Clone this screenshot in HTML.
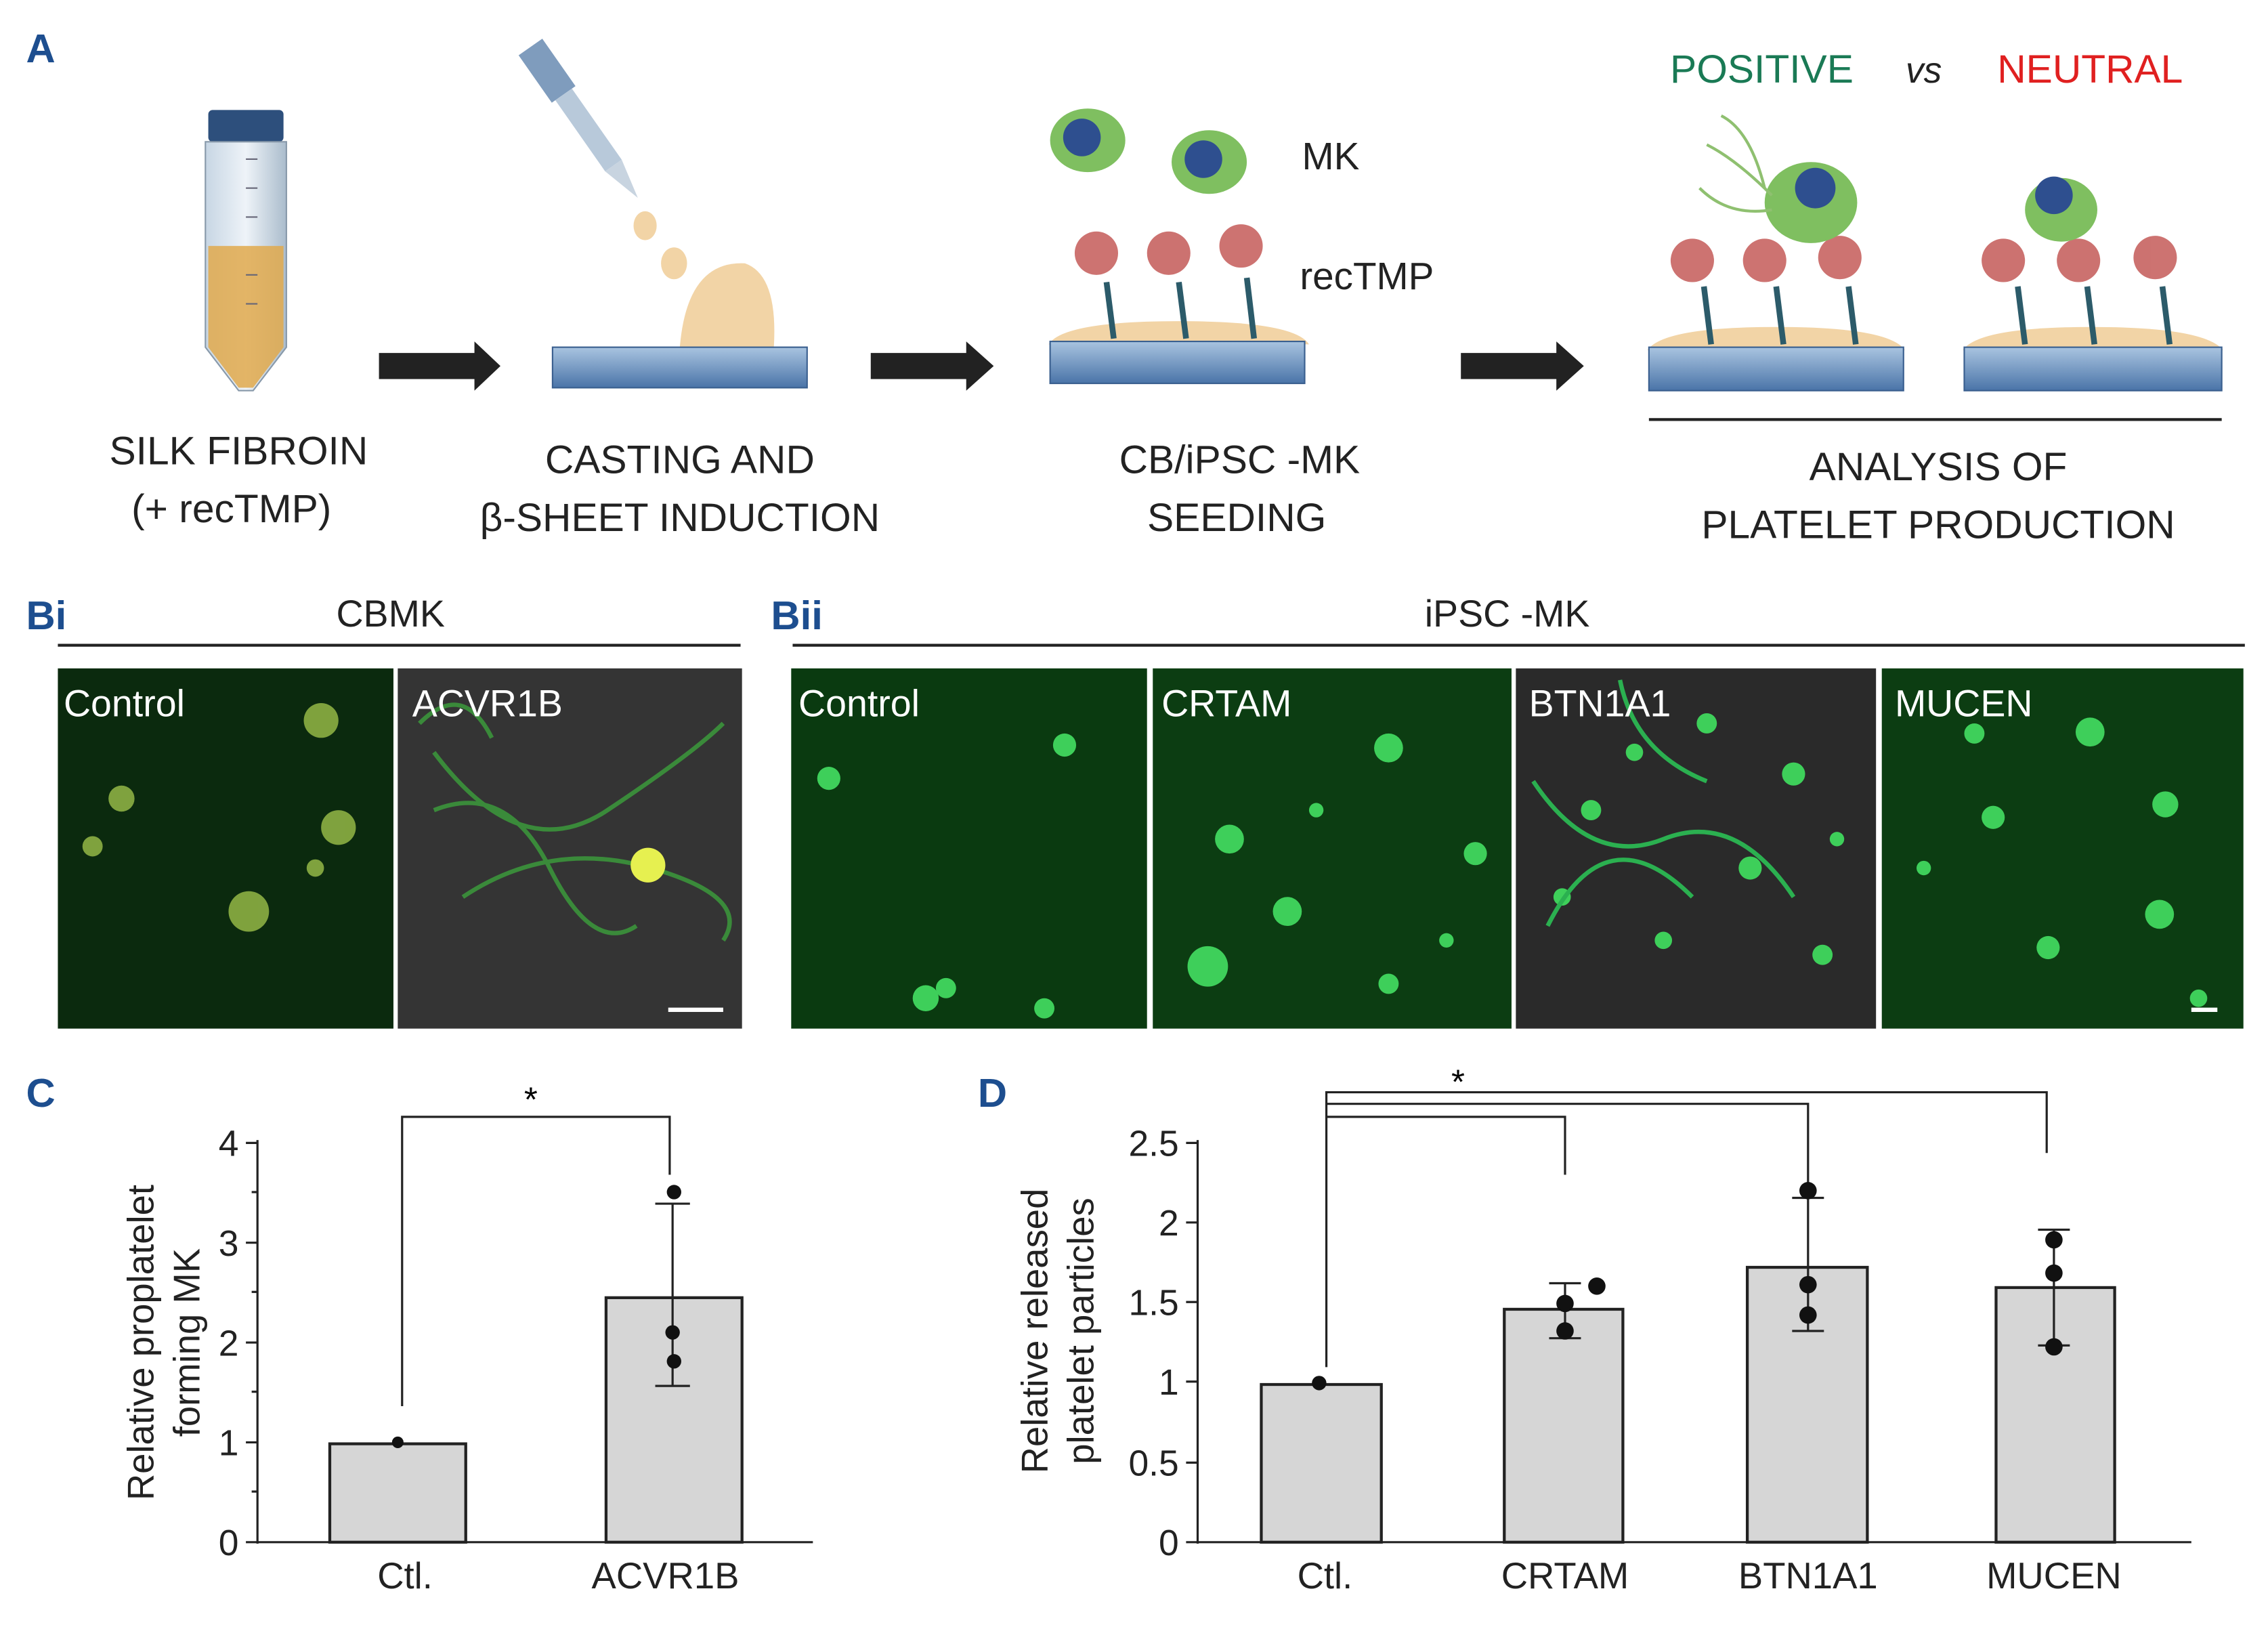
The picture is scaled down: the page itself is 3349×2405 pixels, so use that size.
<!DOCTYPE html>
<html><head><meta charset="utf-8"><style>
html,body{margin:0;padding:0;background:#fff}
svg{display:block}
text{font-family:"Liberation Sans",sans-serif}
</style></head><body>
<svg width="3349" height="2405" viewBox="0 0 1568 1126" xmlns="http://www.w3.org/2000/svg">
<defs>
<linearGradient id="slab" x1="0" y1="0" x2="0" y2="1"><stop offset="0" stop-color="#a9c4e0"/><stop offset="1" stop-color="#4a74a8"/></linearGradient>
<linearGradient id="tube" x1="0" y1="0" x2="1" y2="0"><stop offset="0" stop-color="#c7d6e4"/><stop offset="0.5" stop-color="#eef3f8"/><stop offset="1" stop-color="#aabccc"/></linearGradient>
</defs>
<rect width="1568" height="1126" fill="#fff"/>
<text x="18" y="43" font-size="28" font-weight="900" fill="#1d4e8f">A</text>
<rect x="144" y="76" width="52" height="22" rx="3" fill="#2d4f7c"/>
<path d="M142 98 H198 V240 L175 270 H165 L142 240 Z" fill="url(#tube)" stroke="#8899aa"/>
<path d="M144 170 H196 V240 L175 268 H165 L144 240 Z" fill="#e0a94c" opacity="0.85"/>
<g stroke="#667" stroke-width="1"><line x1="170" y1="110" x2="178" y2="110"/><line x1="170" y1="130" x2="178" y2="130"/><line x1="170" y1="150" x2="178" y2="150"/><line x1="170" y1="190" x2="178" y2="190"/><line x1="170" y1="210" x2="178" y2="210"/></g>
<g fill="#222"><path d="M262 244 H328 V236 L346 253 L328 270 V262 H262Z"/><path d="M602 244 H668 V236 L687 253 L668 270 V262 H602Z"/><path d="M1010 244 H1076 V236 L1095 253 L1076 270 V262 H1010Z"/></g>
<g transform="rotate(-35 400 80)"><rect x="390" y="22" width="20" height="40" fill="#7f9cbd"/><rect x="393" y="62" width="14" height="60" fill="#b8c9da"/><path d="M393 122 L407 122 L401 150 Z" fill="#c8d4e0"/></g>
<ellipse cx="446" cy="156" rx="8" ry="10" fill="#f2d4a6"/><ellipse cx="466" cy="182" rx="9" ry="11" fill="#f2d4a6"/>
<path d="M470 240 Q475 180 515 182 Q538 190 535 240Z" fill="#f2d4a6"/>
<rect x="382" y="240" width="176" height="28" fill="url(#slab)" stroke="#3a5f8f"/>
<path d="M725 238 Q735 222 815 222 Q895 222 905 238Z" fill="#f2d4a6"/>
<rect x="726" y="236" width="176" height="29" fill="url(#slab)" stroke="#3a5f8f"/>
<g fill="#c0504d" opacity="0.8"><circle cx="758" cy="175" r="15"/><circle cx="808" cy="175" r="15"/><circle cx="858" cy="170" r="15"/></g>
<g stroke="#2c5b6a" stroke-width="4"><line x1="765" y1="195" x2="770" y2="234"/><line x1="815" y1="195" x2="820" y2="234"/><line x1="862" y1="192" x2="867" y2="234"/></g>
<ellipse cx="752" cy="97" rx="26" ry="22" fill="#7fbf60"/><circle cx="748" cy="95" r="13" fill="#2e4f8f"/>
<ellipse cx="836" cy="112" rx="26" ry="22" fill="#7fbf60"/><circle cx="832" cy="110" r="13" fill="#2e4f8f"/>
<text x="920" y="117" font-size="26.5" text-anchor="middle" fill="#222">MK</text>
<text x="945" y="200" font-size="26.5" text-anchor="middle" fill="#222">recTMP</text>
<path d="M1139 242 Q1150 226 1228 226 Q1306 226 1317 242Z" fill="#f2d4a6"/>
<path d="M1357 242 Q1368 226 1446 226 Q1524 226 1537 242Z" fill="#f2d4a6"/>
<rect x="1140" y="240" width="176" height="30" fill="url(#slab)" stroke="#3a5f8f"/>
<rect x="1358" y="240" width="178" height="30" fill="url(#slab)" stroke="#3a5f8f"/>
<g fill="#c0504d" opacity="0.8"><circle cx="1170" cy="180" r="15"/><circle cx="1220" cy="180" r="15"/><circle cx="1272" cy="178" r="15"/><circle cx="1385" cy="180" r="15"/><circle cx="1437" cy="180" r="15"/><circle cx="1490" cy="178" r="15"/></g>
<g stroke="#2c5b6a" stroke-width="4"><line x1="1178" y1="198" x2="1183" y2="238"/><line x1="1228" y1="198" x2="1233" y2="238"/><line x1="1278" y1="198" x2="1283" y2="238"/><line x1="1395" y1="198" x2="1400" y2="238"/><line x1="1443" y1="198" x2="1448" y2="238"/><line x1="1495" y1="198" x2="1500" y2="238"/></g>
<ellipse cx="1252" cy="140" rx="32" ry="28" fill="#7fbf60"/><circle cx="1255" cy="130" r="14" fill="#2e4f8f"/>
<g stroke="#8fc070" stroke-width="2" fill="none"><path d="M1225 135 Q1200 110 1180 100"/><path d="M1220 130 Q1210 90 1190 80"/><path d="M1225 145 Q1195 150 1175 130"/></g>
<ellipse cx="1425" cy="145" rx="25" ry="22" fill="#7fbf60"/><circle cx="1420" cy="135" r="13" fill="#2e4f8f"/>
<text x="1218" y="57" font-size="27.5" text-anchor="middle" fill="#1a7a55">POSITIVE</text>
<text x="1330" y="57" font-size="25" font-style="italic" text-anchor="middle" fill="#222">vs</text>
<text x="1445" y="57" font-size="27.5" text-anchor="middle" fill="#e02020">NEUTRAL</text>
<line x1="1140" y1="290" x2="1536" y2="290" stroke="#222" stroke-width="2"/>
<g font-size="27.5" text-anchor="middle" fill="#222">
<text x="165" y="321">SILK FIBROIN</text><text x="160" y="361">(+ recTMP)</text>
<text x="470" y="327">CASTING AND</text><text x="470" y="367">β-SHEET INDUCTION</text>
<text x="857" y="327">CB/iPSC -MK</text><text x="855" y="367">SEEDING</text>
<text x="1340" y="332">ANALYSIS OF</text><text x="1340" y="372">PLATELET PRODUCTION</text>
</g>
<text x="18" y="435" font-size="28" font-weight="900" fill="#1d4e8f">Bi</text>
<text x="533" y="435" font-size="28" font-weight="900" fill="#1d4e8f">Bii</text>
<text x="270" y="433" font-size="26" text-anchor="middle" fill="#222">CBMK</text>
<text x="1042" y="433" font-size="26" text-anchor="middle" fill="#222">iPSC -MK</text>
<line x1="40" y1="446" x2="512" y2="446" stroke="#222" stroke-width="2"/>
<line x1="548" y1="446" x2="1552" y2="446" stroke="#222" stroke-width="2"/>
<rect x="40" y="462" width="232" height="249" fill="#0b2a0e"/>
<rect x="275" y="462" width="238" height="249" fill="#343434"/>
<rect x="547" y="462" width="246" height="249" fill="#0a3a10"/>
<rect x="797" y="462" width="248" height="249" fill="#0c3d12"/>
<rect x="1048" y="462" width="249" height="249" fill="#2a2a2a"/>
<rect x="1301" y="462" width="250" height="249" fill="#0c3d12"/>
<g fill="#9cc04a" opacity="0.8"><circle cx="222" cy="498" r="12"/><circle cx="84" cy="552" r="9"/><circle cx="234" cy="572" r="12"/><circle cx="64" cy="585" r="7"/><circle cx="172" cy="630" r="14"/><circle cx="218" cy="600" r="6"/></g>
<g stroke="#3a8a3a" stroke-width="3" fill="none"><path d="M300 520 Q360 600 420 560 T500 500"/><path d="M320 620 Q380 580 450 600 T500 650"/><path d="M300 560 Q350 540 380 600 T440 640"/><path d="M290 500 Q320 470 340 510"/></g>
<circle cx="448" cy="598" r="12" fill="#e6f050"/>
<g fill="#3ecf5a"><circle cx="573" cy="538" r="8"/><circle cx="736" cy="515" r="8"/><circle cx="640" cy="690" r="9"/><circle cx="654" cy="683" r="7"/><circle cx="722" cy="697" r="7"/>
<circle cx="960" cy="517" r="10"/><circle cx="850" cy="580" r="10"/><circle cx="890" cy="630" r="10"/><circle cx="835" cy="668" r="14"/><circle cx="1020" cy="590" r="8"/><circle cx="960" cy="680" r="7"/><circle cx="910" cy="560" r="5"/><circle cx="1000" cy="650" r="5"/>
<circle cx="1240" cy="535" r="8"/><circle cx="1180" cy="500" r="7"/><circle cx="1100" cy="560" r="7"/><circle cx="1210" cy="600" r="8"/><circle cx="1260" cy="660" r="7"/><circle cx="1150" cy="650" r="6"/><circle cx="1080" cy="620" r="6"/><circle cx="1130" cy="520" r="6"/><circle cx="1270" cy="580" r="5"/>
<circle cx="1445" cy="506" r="10"/><circle cx="1365" cy="507" r="7"/><circle cx="1378" cy="565" r="8"/><circle cx="1497" cy="556" r="9"/><circle cx="1416" cy="655" r="8"/><circle cx="1493" cy="632" r="10"/><circle cx="1520" cy="690" r="6"/><circle cx="1330" cy="600" r="5"/></g>
<g stroke="#2bb050" stroke-width="3" fill="none"><path d="M1060 540 Q1100 600 1150 580 T1240 620"/><path d="M1070 640 Q1110 560 1170 620"/><path d="M1120 470 Q1130 520 1180 540"/></g>
<g font-size="26" fill="#fff"><text x="44" y="495">Control</text><text x="285" y="495">ACVR1B</text><text x="552" y="495">Control</text><text x="803" y="495">CRTAM</text><text x="1057" y="495">BTN1A1</text><text x="1310" y="495">MUCEN</text></g>
<line x1="462" y1="698" x2="500" y2="698" stroke="#fff" stroke-width="3"/>
<line x1="1515" y1="698" x2="1533" y2="698" stroke="#fff" stroke-width="3"/>
<text x="18" y="765" font-size="28" font-weight="900" fill="#1d4e8f">C</text>
<g stroke="#222" stroke-width="1.5" fill="none">
<line x1="178" y1="788" x2="178" y2="1067"/><line x1="178" y1="1066" x2="562" y2="1066"/>
<line x1="170" y1="790" x2="178" y2="790"/><line x1="170" y1="859" x2="178" y2="859"/><line x1="170" y1="928" x2="178" y2="928"/><line x1="170" y1="997" x2="178" y2="997"/><line x1="170" y1="1066" x2="178" y2="1066"/>
<line x1="174" y1="824" x2="178" y2="824"/><line x1="174" y1="893" x2="178" y2="893"/><line x1="174" y1="962" x2="178" y2="962"/><line x1="174" y1="1031" x2="178" y2="1031"/>
<polyline points="278,972 278,772 463,772 463,812"/>
</g>
<rect x="228" y="998" width="94" height="68" fill="#d6d6d6" stroke="#222" stroke-width="2"/>
<rect x="419" y="897" width="94" height="169" fill="#d6d6d6" stroke="#222" stroke-width="2"/>
<g stroke="#222" stroke-width="1.5"><line x1="465" y1="832" x2="465" y2="958"/><line x1="453" y1="832" x2="477" y2="832"/><line x1="453" y1="958" x2="477" y2="958"/></g>
<g fill="#111"><circle cx="275" cy="997" r="4"/><circle cx="466" cy="824" r="5"/><circle cx="465" cy="921" r="5"/><circle cx="466" cy="941" r="5"/></g>
<text x="367" y="768" font-size="24" text-anchor="middle">*</text>
<g font-size="25" text-anchor="end" fill="#222"><text x="165" y="799">4</text><text x="165" y="868">3</text><text x="165" y="937">2</text><text x="165" y="1006">1</text><text x="165" y="1075">0</text></g>
<g font-size="25.5" fill="#222" text-anchor="middle"><text x="280" y="1098">Ctl.</text><text x="460" y="1098">ACVR1B</text>
<text transform="translate(106,928) rotate(-90)">Relative proplatelet</text><text transform="translate(138,928) rotate(-90)">forming MK</text></g>
<text x="676" y="765" font-size="28" font-weight="900" fill="#1d4e8f">D</text>
<g stroke="#222" stroke-width="1.5" fill="none">
<line x1="828" y1="788" x2="828" y2="1067"/><line x1="828" y1="1066" x2="1515" y2="1066"/>
<line x1="820" y1="790" x2="828" y2="790"/><line x1="820" y1="845" x2="828" y2="845"/><line x1="820" y1="900" x2="828" y2="900"/><line x1="820" y1="955" x2="828" y2="955"/><line x1="820" y1="1011" x2="828" y2="1011"/><line x1="820" y1="1066" x2="828" y2="1066"/>
<polyline points="917,945 917,755 1415,755 1415,797"/>
<polyline points="917,763 1250,763 1250,826"/>
<polyline points="917,772 1082,772 1082,812"/>
</g>
<g fill="#d6d6d6" stroke="#222" stroke-width="2"><rect x="872" y="957" width="83" height="109"/><rect x="1040" y="905" width="82" height="161"/><rect x="1208" y="876" width="83" height="190"/><rect x="1380" y="890" width="82" height="176"/></g>
<g stroke="#222" stroke-width="1.5"><line x1="1082" y1="887" x2="1082" y2="925"/><line x1="1071" y1="887" x2="1093" y2="887"/><line x1="1071" y1="925" x2="1093" y2="925"/>
<line x1="1250" y1="828" x2="1250" y2="920"/><line x1="1239" y1="828" x2="1261" y2="828"/><line x1="1239" y1="920" x2="1261" y2="920"/>
<line x1="1420" y1="850" x2="1420" y2="930"/><line x1="1409" y1="850" x2="1431" y2="850"/><line x1="1409" y1="930" x2="1431" y2="930"/></g>
<g fill="#111"><circle cx="912" cy="956" r="5"/><circle cx="1082" cy="901" r="6"/><circle cx="1104" cy="889" r="6"/><circle cx="1082" cy="920" r="6"/><circle cx="1250" cy="823" r="6"/><circle cx="1250" cy="888" r="6"/><circle cx="1250" cy="909" r="6"/><circle cx="1420" cy="857" r="6"/><circle cx="1420" cy="880" r="6"/><circle cx="1420" cy="931" r="6"/></g>
<text x="1008" y="756" font-size="24" text-anchor="middle">*</text>
<g font-size="25" text-anchor="end" fill="#222"><text x="815" y="799">2.5</text><text x="815" y="854">2</text><text x="815" y="909">1.5</text><text x="815" y="964">1</text><text x="815" y="1020">0.5</text><text x="815" y="1075">0</text></g>
<g font-size="25.5" fill="#222" text-anchor="middle"><text x="916" y="1098">Ctl.</text><text x="1082" y="1098">CRTAM</text><text x="1250" y="1098">BTN1A1</text><text x="1420" y="1098">MUCEN</text>
<text transform="translate(724,920) rotate(-90)">Relative released</text><text transform="translate(756,920) rotate(-90)">platelet particles</text></g>
</svg>
</body></html>
